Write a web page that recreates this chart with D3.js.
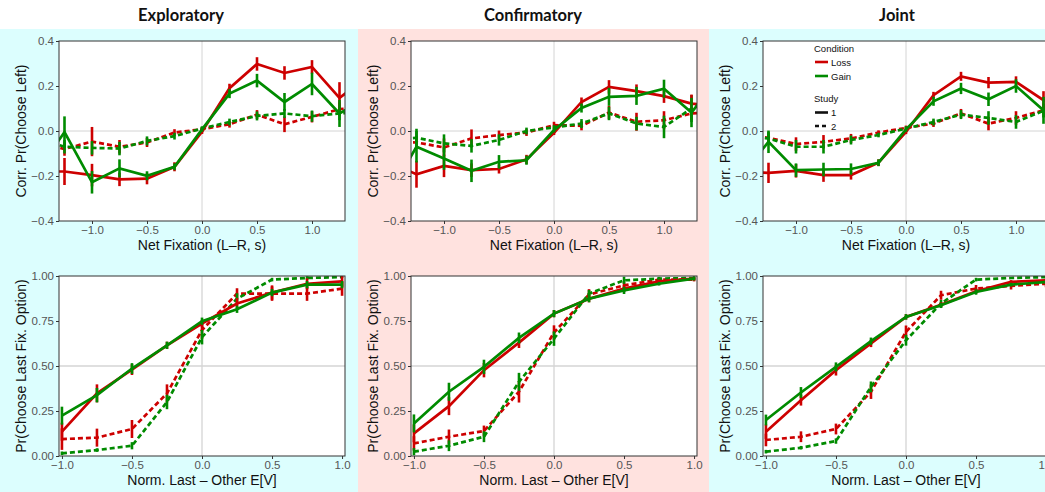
<!DOCTYPE html>
<html><head><meta charset="utf-8">
<script src="https://cdn.jsdelivr.net/npm/d3@7/dist/d3.min.js"></script>
<style>body{margin:0;background:#fff}svg{display:block}</style>
</head><body>
<svg id="chart" width="1045" height="492"></svg>
<script>
// ---------- data ----------
const panelTitles = ["Exploratory", "Confirmatory", "Joint"];
const topX = [-1.5, -1.25, -1, -0.75, -0.5, -0.25, 0, 0.25, 0.5, 0.75, 1, 1.25, 1.5];
const botX = [-1, -0.75, -0.5, -0.25, 0, 0.25, 0.5, 0.75, 1];
const topYTicks = [-0.4, -0.2, 0, 0.2, 0.4];
const topXTicks = [-1, -0.5, 0, 0.5, 1];
const botYTicks = [0, 0.25, 0.5, 0.75, 1];
const botXTicks = [-1, -0.5, 0, 0.5, 1];
const topXLabel = "Net Fixation (L\u2013R, s)";
const topYLabel = "Corr. Pr(Choose Left)";
const botXLabel = "Norm. Last \u2013 Other E[V]";
const botYLabel = "Pr(Choose Last Fix. Option)";
const conditions = ["Loss", "Gain"];
const studies = ["1", "2"];

// Exploratory, top row
const expTopLoss1 = [-0.18, -0.18, -0.196, -0.215, -0.212, -0.159, -0.003, 0.19, 0.298, 0.258, 0.285, 0.147, 0.24];
const expTopLoss1Err = [0.05, 0.06, 0.05, 0.03, 0.025, 0.02, 0.01, 0.02, 0.03, 0.03, 0.03, 0.07, 0.05];
const expTopGain1 = [-0.18, -0.005, -0.228, -0.166, -0.199, -0.159, 0.007, 0.166, 0.224, 0.129, 0.209, 0.078, 0.15];
const expTopGain1Err = [0.05, 0.07, 0.05, 0.04, 0.02, 0.015, 0.01, 0.02, 0.03, 0.04, 0.05, 0.06, 0.05];
const expTopLoss2 = [-0.05, -0.08, -0.047, -0.07, -0.051, -0.007, 0.008, 0.03, 0.073, 0.03, 0.063, 0.097, 0.11];
const expTopLoss2Err = [0.03, 0.03, 0.065, 0.03, 0.02, 0.015, 0.01, 0.015, 0.02, 0.035, 0.025, 0.03, 0.03];
const expTopGain2 = [-0.03, -0.07, -0.075, -0.078, -0.044, -0.023, 0.011, 0.04, 0.067, 0.078, 0.066, 0.078, 0.085];
const expTopGain2Err = [0.03, 0.03, 0.03, 0.03, 0.02, 0.015, 0.01, 0.015, 0.02, 0.02, 0.025, 0.03, 0.03];
// Exploratory, bottom row
const expBotLoss1 = [0.135, 0.348, 0.48, 0.615, 0.736, 0.847, 0.908, 0.957, 0.97];
const expBotLoss1Err = [0.05, 0.05, 0.03, 0.02, 0.02, 0.03, 0.04, 0.03, 0.03];
const expBotGain1 = [0.224, 0.338, 0.486, 0.615, 0.749, 0.815, 0.908, 0.952, 0.952];
const expBotGain1Err = [0.05, 0.04, 0.03, 0.02, 0.02, 0.02, 0.02, 0.02, 0.02];
const expBotLoss2 = [0.094, 0.102, 0.15, 0.348, 0.70, 0.902, 0.902, 0.902, 0.93];
const expBotLoss2Err = [0.06, 0.05, 0.05, 0.05, 0.05, 0.03, 0.04, 0.04, 0.04];
const expBotGain2 = [0.015, 0.033, 0.057, 0.30, 0.66, 0.874, 0.98, 0.989, 0.994];
const expBotGain2Err = [0.01, 0.01, 0.02, 0.04, 0.04, 0.03, 0.01, 0.01, 0.005];

// Confirmatory, top row
const conTopLoss1 = [-0.14, -0.192, -0.155, -0.174, -0.169, -0.126, -0.008, 0.129, 0.196, 0.177, 0.155, 0.122, 0.11];
const conTopLoss1Err = [0.05, 0.06, 0.05, 0.03, 0.02, 0.02, 0.01, 0.02, 0.03, 0.03, 0.03, 0.04, 0.04];
const conTopGain1 = [-0.28, -0.07, -0.122, -0.177, -0.137, -0.13, 0.004, 0.102, 0.152, 0.156, 0.188, 0.082, 0.24];
const conTopGain1Err = [0.05, 0.07, 0.05, 0.05, 0.03, 0.02, 0.01, 0.02, 0.04, 0.04, 0.04, 0.065, 0.05];
const conTopLoss2 = [-0.05, -0.051, -0.073, -0.033, -0.018, -0.007, 0.026, 0.023, 0.082, 0.041, 0.048, 0.078, 0.085];
const conTopLoss2Err = [0.03, 0.03, 0.04, 0.04, 0.02, 0.015, 0.015, 0.02, 0.03, 0.04, 0.04, 0.03, 0.03];
const conTopGain2 = [-0.04, -0.03, -0.055, -0.066, -0.04, 0.0, 0.016, 0.033, 0.078, 0.033, 0.018, 0.10, 0.16];
const conTopGain2Err = [0.03, 0.04, 0.04, 0.03, 0.025, 0.015, 0.01, 0.02, 0.03, 0.03, 0.05, 0.06, 0.05];
// Confirmatory, bottom row
const conBotLoss1 = [0.126, 0.277, 0.477, 0.63, 0.791, 0.874, 0.93, 0.97, 0.985];
const conBotLoss1Err = [0.05, 0.05, 0.04, 0.03, 0.02, 0.02, 0.02, 0.01, 0.01];
const conBotGain1 = [0.181, 0.357, 0.495, 0.656, 0.791, 0.874, 0.92, 0.957, 0.985];
const conBotGain1Err = [0.05, 0.05, 0.04, 0.03, 0.02, 0.02, 0.02, 0.01, 0.01];
const conBotLoss2 = [0.07, 0.107, 0.139, 0.357, 0.686, 0.897, 0.948, 0.98, 0.98];
const conBotLoss2Err = [0.04, 0.04, 0.03, 0.06, 0.04, 0.03, 0.02, 0.01, 0.01];
const conBotGain2 = [0.024, 0.057, 0.107, 0.412, 0.652, 0.902, 0.976, 0.985, 0.989];
const conBotGain2Err = [0.02, 0.03, 0.03, 0.05, 0.04, 0.02, 0.02, 0.01, 0.01];

// Joint, top row
const joiTopLoss1 = [-0.18, -0.186, -0.177, -0.196, -0.196, -0.141, -0.004, 0.159, 0.243, 0.215, 0.218, 0.137, 0.1];
const joiTopLoss1Err = [0.04, 0.045, 0.03, 0.03, 0.02, 0.015, 0.01, 0.015, 0.02, 0.025, 0.025, 0.04, 0.04];
const joiTopGain1 = [-0.2, -0.048, -0.174, -0.171, -0.169, -0.141, 0.007, 0.132, 0.189, 0.141, 0.2, 0.092, 0.1];
const joiTopGain1Err = [0.04, 0.05, 0.03, 0.03, 0.025, 0.015, 0.01, 0.02, 0.025, 0.03, 0.03, 0.06, 0.05];
const joiTopLoss2 = [-0.02, -0.03, -0.058, -0.048, -0.033, -0.007, 0.014, 0.033, 0.078, 0.033, 0.058, 0.092, 0.1];
const joiTopLoss2Err = [0.02, 0.02, 0.03, 0.03, 0.02, 0.01, 0.01, 0.015, 0.02, 0.03, 0.03, 0.03, 0.03];
const joiTopGain2 = [-0.02, -0.033, -0.07, -0.07, -0.04, -0.018, 0.011, 0.04, 0.073, 0.058, 0.04, 0.09, 0.1];
const joiTopGain2Err = [0.02, 0.03, 0.03, 0.03, 0.02, 0.01, 0.01, 0.015, 0.02, 0.03, 0.03, 0.03, 0.03];
// Joint, bottom row
const joiBotLoss1 = [0.135, 0.31, 0.477, 0.625, 0.773, 0.84, 0.915, 0.967, 0.976];
const joiBotLoss1Err = [0.04, 0.03, 0.03, 0.02, 0.015, 0.015, 0.015, 0.01, 0.01];
const joiBotGain1 = [0.2, 0.353, 0.495, 0.638, 0.773, 0.837, 0.911, 0.952, 0.967];
const joiBotGain1Err = [0.03, 0.03, 0.025, 0.02, 0.015, 0.015, 0.015, 0.01, 0.01];
const joiBotLoss2 = [0.089, 0.107, 0.15, 0.357, 0.69, 0.893, 0.93, 0.945, 0.957];
const joiBotLoss2Err = [0.035, 0.03, 0.03, 0.04, 0.035, 0.025, 0.02, 0.02, 0.02];
const joiBotGain2 = [0.024, 0.046, 0.083, 0.384, 0.643, 0.847, 0.98, 0.989, 0.994];
const joiBotGain2Err = [0.01, 0.01, 0.015, 0.03, 0.03, 0.02, 0.01, 0.005, 0.005];

// ---------- assemble ----------
const topData = [
  [[expTopLoss2, expTopLoss2Err], [expTopGain2, expTopGain2Err], [expTopLoss1, expTopLoss1Err], [expTopGain1, expTopGain1Err]],
  [[conTopLoss2, conTopLoss2Err], [conTopGain2, conTopGain2Err], [conTopLoss1, conTopLoss1Err], [conTopGain1, conTopGain1Err]],
  [[joiTopLoss2, joiTopLoss2Err], [joiTopGain2, joiTopGain2Err], [joiTopLoss1, joiTopLoss1Err], [joiTopGain1, joiTopGain1Err]]
];
const botData = [
  [[expBotLoss2, expBotLoss2Err], [expBotGain2, expBotGain2Err], [expBotLoss1, expBotLoss1Err], [expBotGain1, expBotGain1Err]],
  [[conBotLoss2, conBotLoss2Err], [conBotGain2, conBotGain2Err], [conBotLoss1, conBotLoss1Err], [conBotGain1, conBotGain1Err]],
  [[joiBotLoss2, joiBotLoss2Err], [joiBotGain2, joiBotGain2Err], [joiBotLoss1, joiBotLoss1Err], [joiBotGain1, joiBotGain1Err]]
];
// series order: Loss2, Gain2, Loss1, Gain1
const seriesCond = ["Loss", "Gain", "Loss", "Gain"];
const seriesStudy = ["2", "2", "1", "1"];

const colorScale = d3.scaleOrdinal().domain(conditions).range(["#cd0000", "#008b00"]);
const dashScale = d3.scaleOrdinal().domain(studies).range(["none", "5,3"]);

const svg = d3.select("#chart");
const W = 1045, H = 492;

// backgrounds
const bgs = [[0, 358, "#dcfefe"], [358, 709, "#ffe2df"], [709, 1045, "#dcfefe"]];
svg.selectAll("rect.bg").data(bgs).enter().append("rect")
  .attr("x", d => d[0]).attr("y", 29).attr("width", d => d[1] - d[0]).attr("height", H - 29)
  .attr("fill", d => d[2]);

const titleX = [181, 533, 897];
svg.selectAll("text.title").data(panelTitles).enter().append("text")
  .attr("x", (d, i) => titleX[i]).attr("y", 21).attr("text-anchor", "middle")
  .attr("font-family", "Lato, 'Open Sans', sans-serif").attr("font-weight", 700)
  .attr("font-size", 16.5).attr("fill", "#111").text(d => d);

const plotLeft = [59, 411, 763];
const plotW = 286;
const rows = [
  {top: 41, bottom: 221, xDom: [-1.3, 1.3], yDom: [-0.4, 0.4], xs: topX, data: topData,
   xTicks: topXTicks, yTicks: topYTicks, yFmt: d3.format(".1f"), xl: topXLabel, yl: topYLabel, refY: 0},
  {top: 276, bottom: 456, xDom: [-1.021, 1.021], yDom: [0, 1], xs: botX, data: botData,
   xTicks: botXTicks, yTicks: botYTicks, yFmt: d3.format(".2f"), xl: botXLabel, yl: botYLabel, refY: 0.5}
];
const fmtMinus = s => s.replace("-", "\u2212");
const font = "'Liberation Sans', Arial, sans-serif";

rows.forEach((row, ri) => {
  plotLeft.forEach((left, pi) => {
    const x = d3.scaleLinear().domain(row.xDom).range([left, left + plotW]);
    const y = d3.scaleLinear().domain(row.yDom).range([row.bottom, row.top]);
    const g = svg.append("g");
    const clipId = `clip-${ri}-${pi}`;
    svg.append("clipPath").attr("id", clipId).append("rect")
      .attr("x", left).attr("y", row.top).attr("width", plotW).attr("height", row.bottom - row.top);

    g.append("rect").attr("x", left).attr("y", row.top).attr("width", plotW)
      .attr("height", row.bottom - row.top).attr("fill", "#fff");

    // reference lines
    g.append("line").attr("x1", x(0)).attr("x2", x(0)).attr("y1", row.top).attr("y2", row.bottom)
      .attr("stroke", "#d4d4d4").attr("stroke-width", ri === 0 ? 1 : 1.3);
    g.append("line").attr("x1", left).attr("x2", left + plotW).attr("y1", y(row.refY)).attr("y2", y(row.refY))
      .attr("stroke", "#d4d4d4").attr("stroke-width", ri === 0 ? 1 : 1.3);

    const clipG = g.append("g").attr("clip-path", `url(#${clipId})`);
    const line = d3.line().x((d, i) => x(row.xs[i])).y(d => y(d));
    row.data[pi].forEach((s, si) => {
      const [vals, errs] = s;
      const col = colorScale(seriesCond[si]);
      clipG.append("path").datum(vals).attr("d", line).attr("fill", "none")
        .attr("stroke", col).attr("stroke-width", 2.7)
        .attr("stroke-dasharray", dashScale(seriesStudy[si]));
      clipG.selectAll(null).data(vals).enter().append("line")
        .attr("x1", (d, i) => x(row.xs[i])).attr("x2", (d, i) => x(row.xs[i]))
        .attr("y1", (d, i) => y(d - errs[i])).attr("y2", (d, i) => y(d + errs[i]))
        .attr("stroke", col).attr("stroke-width", 2.6);
    });

    // border
    g.append("rect").attr("x", left).attr("y", row.top).attr("width", plotW)
      .attr("height", row.bottom - row.top).attr("fill", "none").attr("stroke", "#333").attr("stroke-width", 1);

    // axes
    const xa = g.append("g").attr("transform", `translate(0,${row.bottom})`)
      .call(d3.axisBottom(x).tickValues(row.xTicks).tickSize(3).tickPadding(2)
        .tickFormat(d => fmtMinus(d3.format(".1f")(d))));
    const ya = g.append("g").attr("transform", `translate(${left},0)`)
      .call(d3.axisLeft(y).tickValues(row.yTicks).tickSize(3).tickPadding(2)
        .tickFormat(d => fmtMinus(row.yFmt(d))));
    [xa, ya].forEach(a => {
      a.select(".domain").remove();
      a.selectAll(".tick line").attr("stroke", "#333");
      a.selectAll(".tick text").attr("fill", "#555").attr("font-size", 11.5).attr("font-family", font);
    });

    g.append("text").attr("x", left + plotW / 2).attr("y", row.bottom + 28.5).attr("text-anchor", "middle")
      .attr("font-family", font).attr("font-size", 14).attr("fill", "#111").text(row.xl);
    g.append("text").attr("transform", `translate(${left - 33},${(row.top + row.bottom) / 2}) rotate(-90)`)
      .attr("text-anchor", "middle").attr("font-family", font).attr("font-size", 14)
      .attr("fill", "#111").text(row.yl);
  });
});

// legend (in the Joint top plot)
const lg = svg.append("g").attr("font-family", font).attr("font-size", 9.5).attr("fill", "#111");
lg.append("text").attr("x", 814).attr("y", 51.5).text("Condition");
conditions.forEach((c, i) => {
  const yy = 62 + i * 14;
  lg.append("line").attr("x1", 815).attr("x2", 828).attr("y1", yy).attr("y2", yy)
    .attr("stroke", colorScale(c)).attr("stroke-width", 2.6);
  lg.append("text").attr("x", 831).attr("y", yy + 3.5).text(c);
});
lg.append("text").attr("x", 814).attr("y", 101.5).text("Study");
studies.forEach((s, i) => {
  const yy = 112.5 + i * 13.5;
  lg.append("line").attr("x1", 815).attr("x2", 828).attr("y1", yy).attr("y2", yy)
    .attr("stroke", "#111").attr("stroke-width", 2.6).attr("stroke-dasharray", s === "1" ? "none" : "4,3");
  lg.append("text").attr("x", 831).attr("y", yy + 3.5).text(s);
});
</script>
</body></html>
